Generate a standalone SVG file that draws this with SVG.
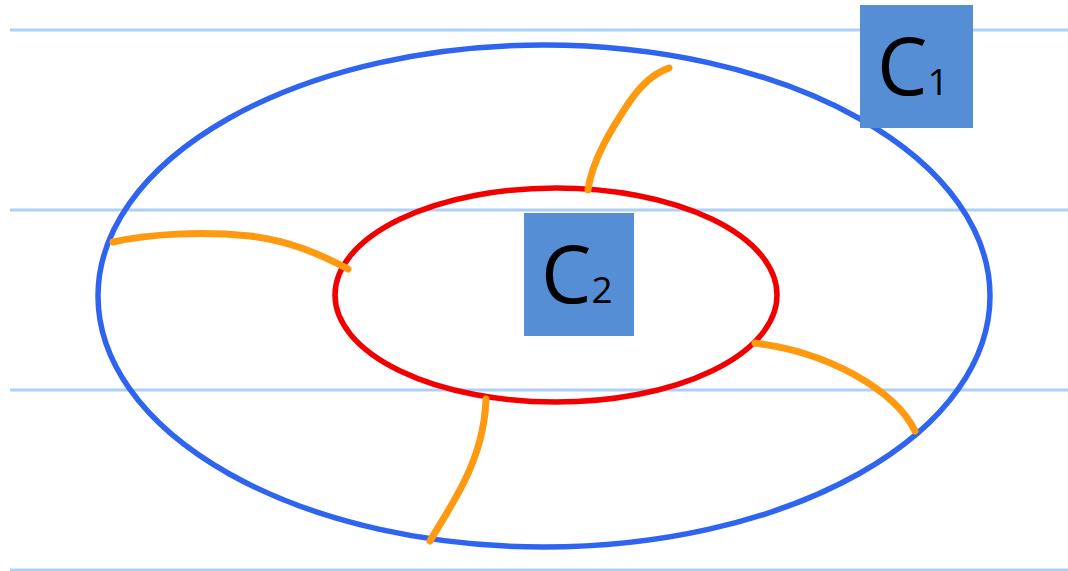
<svg xmlns="http://www.w3.org/2000/svg" width="1068" height="571" viewBox="0 0 1068 571">
<style>
.rule{stroke:#acd0f7;stroke-width:3;fill:none}
.link{stroke:#ff9a10;stroke-width:7;fill:none;stroke-linecap:round;stroke-linejoin:round}
.box{fill:#558ed5}
.lbl{font-family:"Open Sans","Liberation Sans",sans-serif;fill:#000}
</style>
<rect width="1068" height="571" fill="#fff"/>
<g id="rules">
<line class="rule" x1="10" y1="30" x2="1068" y2="30"/>
<line class="rule" x1="10" y1="210" x2="1068" y2="210"/>
<line class="rule" x1="10" y1="390" x2="1068" y2="390"/>
<line class="rule" x1="10" y1="570" x2="1068" y2="570"/>
</g>
<g id="outer">
<ellipse cx="544" cy="296" rx="446" ry="251" fill="none" stroke="#2f64f0" stroke-width="5.5"/>
</g>
<g id="inner">
<ellipse cx="556" cy="295" rx="221" ry="107" fill="none" stroke="#f20000" stroke-width="5.5"/>
</g>
<g id="connectors">
<path class="link" d="M669,68 C652,74 640,86 628,104 C612,128 592,160 588,190"/>
<path class="link" d="M113,242 C150,234 200,231 250,236 C290,241 320,254 348,269"/>
<path class="link" d="M755,343 C790,348 820,356 855,375 C885,392 905,410 915,431"/>
<path class="link" d="M486,399 C485,428 476,458 464,482 C452,506 440,524 430,541"/>
</g>
<g id="C1">
<rect class="box" x="860" y="5" width="113" height="123"/>
<text class="lbl" x="877" y="95" font-size="80">C<tspan font-size="37">1</tspan></text>
</g>
<g id="C2">
<rect class="box" x="524" y="213" width="110" height="123"/>
<text class="lbl" x="541" y="303" font-size="80">C<tspan font-size="37">2</tspan></text>
</g>
</svg>
